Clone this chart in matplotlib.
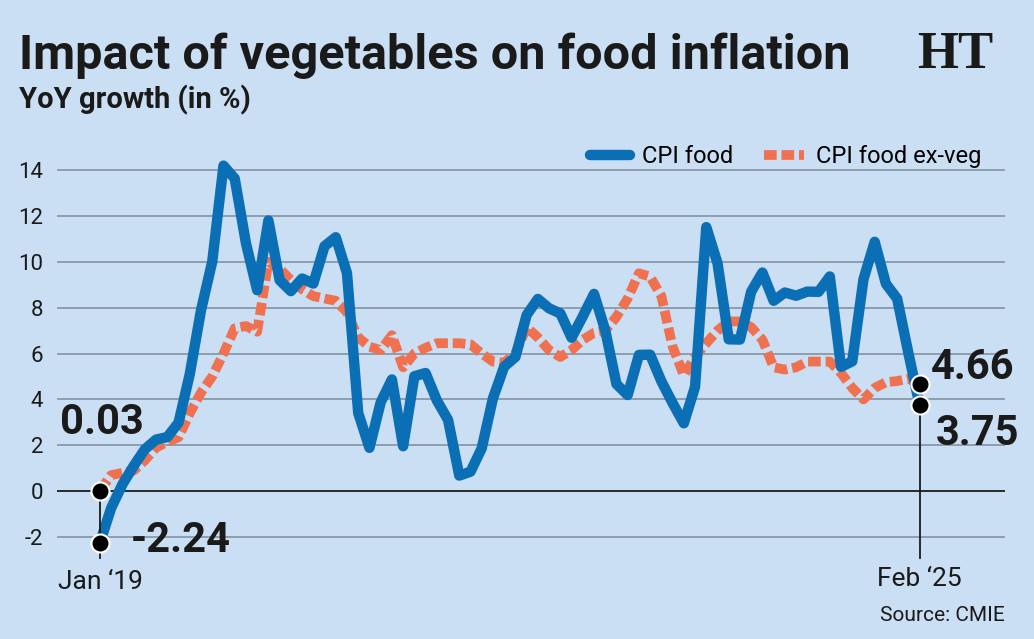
import matplotlib.pyplot as plt
import numpy as np

# monthly YoY growth, Jan 2019 .. Feb 2025
cpi_food = [
    -2.24, -0.73, 0.30, 1.10, 1.83, 2.25, 2.36, 2.99, 5.11, 7.89, 10.01, 14.19,
    13.63, 10.81, 8.76, 11.80, 9.20, 8.72, 9.27, 9.05, 10.68, 11.07, 9.50, 3.41,
    1.89, 3.87, 4.87, 1.96, 5.01, 5.15, 3.96, 3.11, 0.68, 0.85, 1.87, 4.05,
    5.43, 5.85, 7.68, 8.38, 7.97, 7.75, 6.69, 7.62, 8.60, 7.01, 4.67, 4.19,
    5.94, 5.95, 4.79, 3.84, 2.96, 4.55, 11.51, 9.94, 6.62, 6.61, 8.70, 9.53,
    8.30, 8.66, 8.52, 8.70, 8.69, 9.36, 5.42, 5.66, 9.24, 10.87, 9.04, 8.39,
    6.02, 3.75,
]
cpi_food_ex_veg = [
    0.03, 0.70, 0.80, 0.90, 1.35, 1.90, 2.15, 2.35, 3.40, 4.30, 5.00, 6.00,
    7.10, 7.20, 6.95, 10.00, 9.70, 9.20, 8.80, 8.50, 8.40, 8.30, 7.80, 6.70,
    6.30, 6.15, 6.80, 5.40, 6.00, 6.25, 6.45, 6.45, 6.45, 6.40, 6.00, 5.65,
    5.60, 6.00, 7.15, 6.70, 6.15, 5.85, 6.15, 6.60, 6.90, 7.00, 7.60, 8.40,
    9.50, 9.35, 8.50, 6.30, 5.05, 5.85, 6.45, 7.00, 7.40, 7.40, 7.15, 6.60,
    5.40, 5.30, 5.40, 5.65, 5.65, 5.65, 5.15, 4.50, 4.00, 4.50, 4.75, 4.80,
    4.90, 4.66,
]
y_ticks = [-2, 0, 2, 4, 6, 8, 10, 12, 14]
first_label = "Jan \u201819"
last_label = "Feb \u201825"

BG = "#cadff3"
BLUE = "#0b6fb6"
ORANGE = "#f0714f"
GRID = "#8a99a8"
INK = "#1a1a1a"

plt.rcParams["font.family"] = ["Roboto", "DejaVu Sans"]

fig = plt.figure(figsize=(10.34, 6.39), dpi=100, facecolor=BG)
ax = fig.add_axes([0.0551, 0.1236, 0.9168, 0.6416], facecolor=BG)

x = np.arange(len(cpi_food))
ax.set_xlim(-3.83, 80.6)
ax.set_ylim(-3.0, 14.87)

for t in y_ticks:
    ax.axhline(t, color=INK if t == 0 else GRID, lw=1.3, zorder=1)

ax.plot(x, cpi_food_ex_veg, color=ORANGE, lw=7, dashes=(1.3, 0.5),
        dash_capstyle="butt", zorder=2, label="CPI food ex-veg")
ax.plot(x, cpi_food, color=BLUE, lw=7.5, solid_joinstyle="round",
        solid_capstyle="round", zorder=3, label="CPI food")

# end markers
last = len(x) - 1
ax.plot([0, 0], [-2.9, cpi_food_ex_veg[0]], color=INK, lw=1.3, zorder=4)
ax.plot([last, last], [-2.9, cpi_food[-1]], color=INK, lw=1.3, zorder=4)
for xi, yi in [(0, cpi_food_ex_veg[0]), (0, cpi_food[0]),
               (last, cpi_food_ex_veg[-1]), (last, cpi_food[-1])]:
    ax.plot(xi, yi, "o", ms=13, color="black", mec="white", mew=1.5, zorder=5)

bold = dict(fontsize=30, fontweight="bold", color=INK)
ax.text(-3.6, 3.0, f"{cpi_food_ex_veg[0]:.2f}", ha="left", va="center", **bold)
ax.text(2.7, -2.15, f"{cpi_food[0]:.2f}", ha="left", va="center", **bold)
ax.text(last + 1.0, 5.4, f"{cpi_food_ex_veg[-1]:.2f}", ha="left", va="center", **bold)
ax.text(last + 1.4, 2.5, f"{cpi_food[-1]:.2f}", ha="left", va="center", **bold)

ax.text(0, -3.45, first_label, ha="center", va="top", fontsize=19, color=INK)
ax.text(last, -3.3, last_label, ha="center", va="top", fontsize=19, color=INK)

ax.set_yticks(y_ticks)
ax.set_yticklabels([str(t) for t in y_ticks], fontsize=16, color=INK)
ax.tick_params(axis="y", length=0, pad=10)
ax.set_xticks([])
for s in ax.spines.values():
    s.set_visible(False)

handles, labels = ax.get_legend_handles_labels()
ax.legend(handles[::-1], labels[::-1], loc="upper right", bbox_to_anchor=(0.985, 1.035),
          ncol=2, frameon=False, fontsize=17, handlelength=1.7, columnspacing=1.3,
          handletextpad=0.5, borderaxespad=0)

fig.text(0.018, 0.892, "Impact of vegetables on food inflation", fontsize=35,
         fontweight="bold", color=INK, ha="left", va="baseline")
fig.text(0.018, 0.83, "YoY growth (in %)", fontsize=21, fontweight="bold",
         color=INK, ha="left", va="baseline")
fig.text(0.924, 0.893, "HT", fontsize=38, fontweight="bold", color=INK,
         family=["Liberation Serif", "DejaVu Serif"], ha="center", va="baseline")
fig.text(0.972, 0.028, "Source: CMIE", fontsize=15, color=INK, ha="right", va="baseline")

fig.savefig("out.png", dpi=100, facecolor=BG)
